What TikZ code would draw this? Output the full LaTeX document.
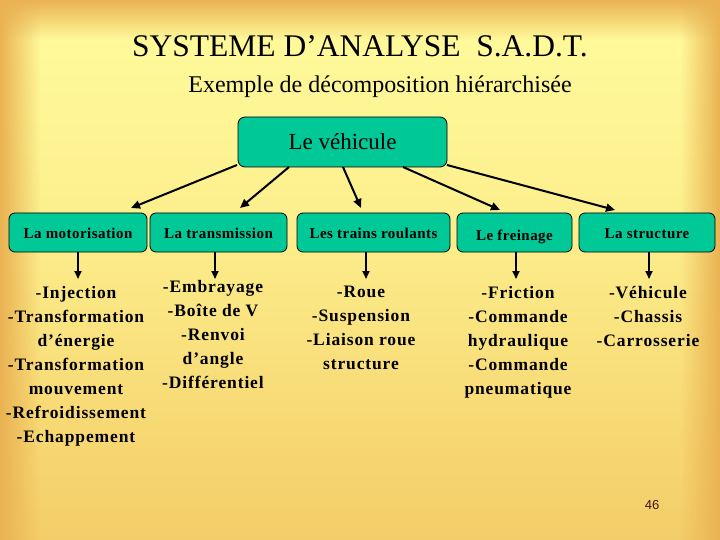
\documentclass[tikz,border=0pt]{standalone}
\usepackage{fontspec}
\setmainfont{Liberation Serif}
\newfontfamily\boxfont[LetterSpace=3]{Liberation Serif}
\newfontfamily\listfont[LetterSpace=5]{Liberation Serif}
\newfontfamily\pagefont{Liberation Sans}
\usetikzlibrary{arrows.meta,fadings}
\definecolor{bgA}{RGB}{236,184,84}
\definecolor{bgB}{RGB}{241,198,98}
\definecolor{bgC}{RGB}{247,216,115}
\definecolor{bgD}{RGB}{252,238,140}
\definecolor{bgE}{RGB}{255,250,155}
\definecolor{bgF}{RGB}{255,255,158}
\definecolor{bandorange}{RGB}{234,178,82}
\definecolor{boxgreen}{RGB}{0,200,150}
\definecolor{pagecol}{RGB}{60,20,20}
\pgfdeclareverticalshading{bgshade}{100bp}{color(0bp)=(bgA); color(18.5bp)=(bgB); color(35bp)=(bgC); color(53.7bp)=(bgD); color(72bp)=(bgE); color(100bp)=(bgF)}
\tikzfading[name=faderight, left color=transparent!0, right color=transparent!100]
\tikzfading[name=fadeleft, left color=transparent!100, right color=transparent!0]
\tikzfading[name=fadedown, top color=transparent!0, bottom color=transparent!100]
\tikzset{
  rootbox/.style={draw=black, line width=0.8pt, fill=boxgreen, rounded corners=7pt,
    minimum width=209pt, minimum height=50pt, inner sep=0pt,
    font=\fontsize{23}{26}\selectfont},
  childbox/.style={draw=black, line width=0.8pt, fill=boxgreen, rounded corners=6pt,
    minimum height=39pt, inner sep=0pt, text height=12.5pt, text depth=1.5pt,
    font=\boxfont\bfseries\fontsize{15}{18}\selectfont},
  arr/.style={line width=2pt, -{Triangle[length=9pt,width=8pt]}},
  darr/.style={line width=1.8pt, -{Triangle[length=8pt,width=7pt]}},
  listtxt/.style={align=center, inner sep=0pt, anchor=north,
    font=\listfont\bfseries\fontsize{17.5}{24}\selectfont}
}
\begin{document}
\begin{tikzpicture}[x=1pt,y=-1pt]
\useasboundingbox (0,0) rectangle (720,540);
% background
\shade[shading=bgshade] (0,0) rectangle (720,540);
\fill[bandorange, path fading=fadedown] (0,0) rectangle (720,40);
\fill[bandorange, path fading=faderight] (0,0) rectangle (40,540);
\fill[bandorange, path fading=fadeleft] (680,0) rectangle (720,540);

% titles
\node (title) at (360,46) {\fontsize{31.5}{36}\selectfont SYSTEME D’ANALYSE\ \ S.A.D.T.};
\node (subtitle) at (380,87) {\fontsize{24}{28}\selectfont Exemple de décomposition hiérarchisée};

% root
\node[rootbox] (root) at (342.5,142) {Le véhicule};

% children
\node[childbox, minimum width=138pt] (b1) at (78,232.5) {La motorisation};
\node[childbox, minimum width=137pt] (b2) at (218.5,232.5) {La transmission};
\node[childbox, minimum width=153pt] (b3) at (373.5,232.5) {Les trains roulants};
\node[childbox, minimum width=115pt] (b4) at (514.5,232.5) {\raisebox{-2pt}{Le freinage}};
\node[childbox, minimum width=136pt] (b5) at (647,232.5) {La structure};

% arrows from root
\coordinate (s1) at (237,165);
\coordinate (s2) at (289,167);
\coordinate (s3) at (343,167);
\coordinate (s4) at (403,167);
\coordinate (s5) at (447,165);
\coordinate (e1) at (131,208);
\coordinate (e2) at (240,208);
\coordinate (e3) at (361,208);
\coordinate (e4) at (500,210);
\coordinate (e5) at (615,210);
\draw[arr] (s1) -- (e1);
\draw[arr] (s2) -- (e2);
\draw[arr] (s3) -- (e3);
\draw[arr] (s4) -- (e4);
\draw[arr] (s5) -- (e5);

% down arrows
\coordinate (d1) at (78,279);
\coordinate (d2) at (215,279);
\coordinate (d3) at (366,279);
\coordinate (d4) at (516,279);
\coordinate (d5) at (649,279);
\draw[darr] (b1.south -| d1) -- (d1);
\draw[darr] (b2.south -| d2) -- (d2);
\draw[darr] (b3.south -| d3) -- (d3);
\draw[darr] (b4.south -| d4) -- (d4);
\draw[darr] (b5.south -| d5) -- (d5);

% lists
\node[listtxt] (c1) at (76,286) {-Injection\\-Transformation\\d’énergie\\-Transformation\\mouvement\\-Refroidissement\\-Echappement};
\node[listtxt] (c2) at (213,280) {-Embrayage\\-Boîte de V\\-Renvoi\\d’angle\\-Différentiel};
\node[listtxt] (c3) at (361,286) {-Roue\\-Suspension\\-Liaison roue\\structure};
\node[listtxt] (c4) at (518,286) {-Friction\\-Commande\\hydraulique\\-Commande\\pneumatique};
\node[listtxt] (c5) at (648,286) {-Véhicule\\-Chassis\\-Carrosserie};

% page number
\node[text=pagecol] (pnum) at (652,505) {\pagefont\fontsize{13}{15}\selectfont 46};
\end{tikzpicture}
\end{document}
